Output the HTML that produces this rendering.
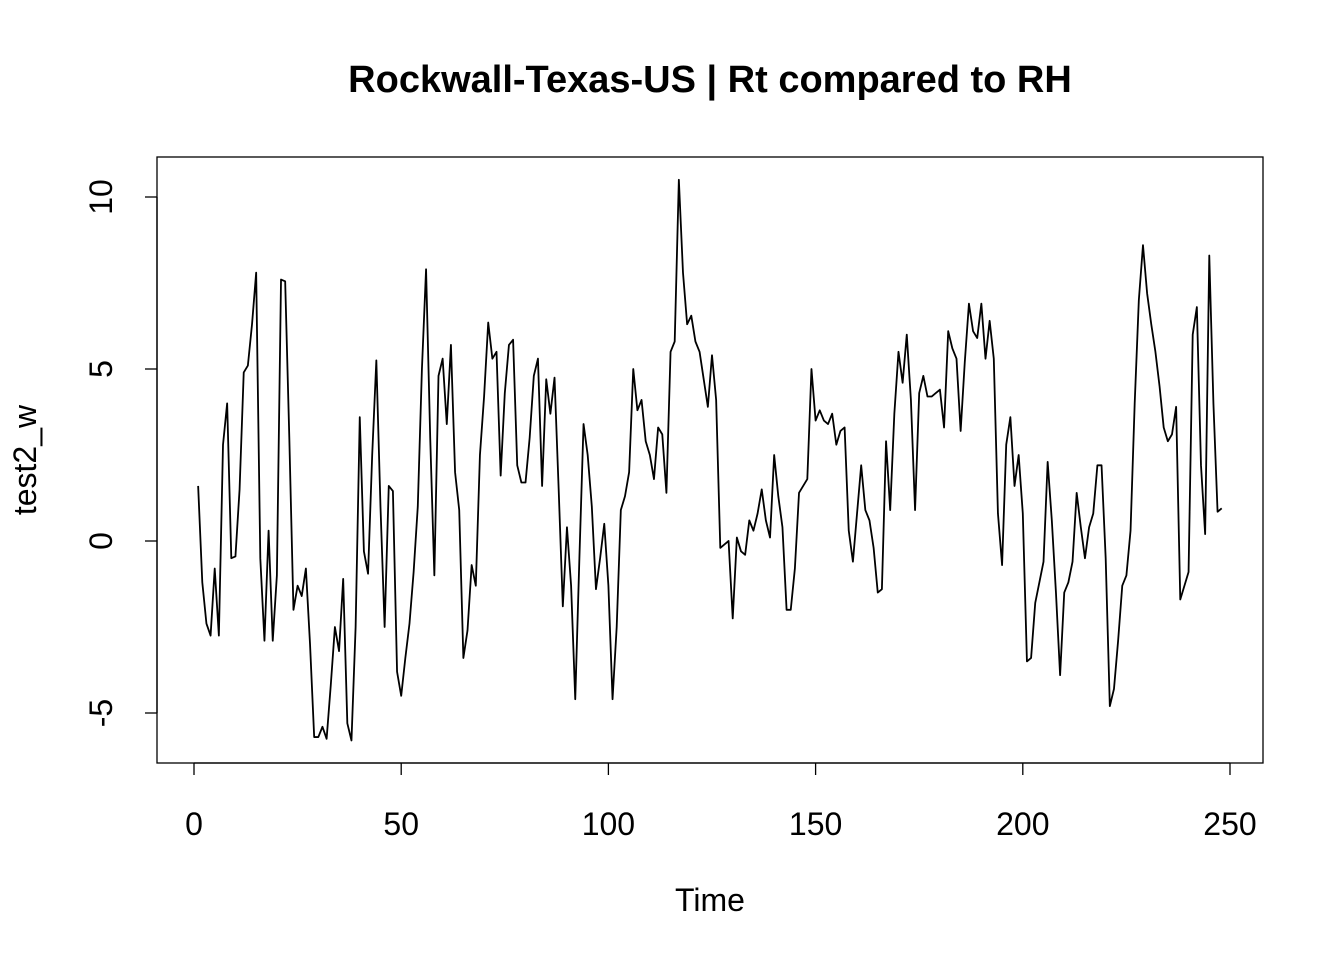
<!DOCTYPE html>
<html><head><meta charset="utf-8"><style>
body{margin:0;background:#fff}
svg{display:block;font-family:"Liberation Sans",Arial,sans-serif}
</style></head><body>
<svg id="chart" width="1344" height="960">
<text x="710" y="92" text-anchor="middle" font-size="38" font-weight="bold">Rockwall-Texas-US | Rt compared to RH</text>
<rect x="157" y="157" width="1106" height="606" fill="none" stroke="#000" stroke-width="1.3"/>
<g id="xaxis"></g>
<g id="yaxis"></g>
<text x="710" y="911" text-anchor="middle" font-size="32">Time</text>
<text transform="translate(36,460) rotate(-90)" text-anchor="middle" font-size="32">test2_w</text>
<path id="series" fill="none" stroke="#000" stroke-width="1.8" stroke-linejoin="round"/>
</svg>
<script>
const values = [1.6,-1.2,-2.4,-2.75,-0.8,-2.75,2.8,4.0,-0.5,-0.45,1.5,4.9,5.1,6.3,7.8,-0.5,-2.9,0.3,-2.9,-1.0,7.6,7.55,3.0,-2.0,-1.3,-1.6,-0.8,-3.0,-5.7,-5.7,-5.4,-5.75,-4.2,-2.5,-3.2,-1.1,-5.3,-5.8,-2.5,3.6,-0.3,-0.95,2.5,5.25,1.0,-2.5,1.6,1.45,-3.8,-4.5,-3.4,-2.4,-0.9,1.0,5.0,7.9,3.0,-1.0,4.8,5.3,3.4,5.7,2.0,0.9,-3.4,-2.6,-0.7,-1.3,2.5,4.2,6.35,5.3,5.5,1.9,4.3,5.7,5.85,2.2,1.7,1.7,3.0,4.8,5.3,1.6,4.7,3.7,4.75,1.5,-1.9,0.4,-1.3,-4.6,-0.5,3.4,2.5,1.0,-1.4,-0.5,0.5,-1.3,-4.6,-2.5,0.9,1.3,2.0,5.0,3.8,4.1,2.9,2.5,1.8,3.3,3.1,1.4,5.5,5.8,10.5,7.8,6.3,6.55,5.8,5.5,4.7,3.9,5.4,4.1,-0.2,-0.1,0.0,-2.25,0.1,-0.3,-0.4,0.6,0.3,0.8,1.5,0.6,0.1,2.5,1.3,0.4,-2.0,-2.0,-0.8,1.4,1.6,1.8,5.0,3.5,3.8,3.5,3.4,3.7,2.8,3.2,3.3,0.3,-0.6,0.8,2.2,0.9,0.6,-0.2,-1.5,-1.4,2.9,0.9,3.7,5.5,4.6,6.0,4.1,0.9,4.3,4.8,4.2,4.2,4.3,4.4,3.3,6.1,5.6,5.3,3.2,5.2,6.9,6.1,5.9,6.9,5.3,6.4,5.3,0.8,-0.7,2.8,3.6,1.6,2.5,0.8,-3.5,-3.4,-1.8,-1.2,-0.6,2.3,0.6,-1.5,-3.9,-1.5,-1.2,-0.6,1.4,0.4,-0.5,0.4,0.8,2.2,2.2,-0.5,-4.8,-4.3,-2.9,-1.3,-1.0,0.3,4.0,7.0,8.6,7.2,6.3,5.5,4.5,3.3,2.9,3.1,3.9,-1.7,-1.3,-0.9,6.0,6.8,2.2,0.2,8.3,4.0,0.85,0.95];
const xTicks = [0,50,100,150,200,250];
const yTicks = [-5,0,5,10];
const NS='http://www.w3.org/2000/svg';
function xs(t){return 194+t*(1230-194)/250;}
function ys(v){return 541-v*(541-197)/10;}
let d='';
values.forEach((v,i)=>{d+=(i?'L':'M')+xs(i+1).toFixed(2)+','+ys(v).toFixed(2);});
document.getElementById('series').setAttribute('d',d);
const xa=document.getElementById('xaxis');
const ln=document.createElementNS(NS,'line');
ln.setAttribute('x1',xs(0));ln.setAttribute('x2',xs(250));ln.setAttribute('y1',763);ln.setAttribute('y2',763);ln.setAttribute('stroke','#000');ln.setAttribute('stroke-width','1.3');
xa.appendChild(ln);
xTicks.forEach(t=>{
 const l=document.createElementNS(NS,'line');
 
 
 l.setAttribute('x1',xs(t));l.setAttribute('x2',xs(t));l.setAttribute('y1',763);l.setAttribute('y2',775);l.setAttribute('stroke','#000');l.setAttribute('stroke-width','1.3');
 xa.appendChild(l);
 const tx=document.createElementNS(NS,'text');
 
 
 tx.setAttribute('x',xs(t));tx.setAttribute('y',835);tx.setAttribute('text-anchor','middle');tx.setAttribute('font-size','32');
 tx.textContent=t;xa.appendChild(tx);
});
const ya=document.getElementById('yaxis');
const ln2=document.createElementNS(NS,'line');
ln2.setAttribute('x1',157);ln2.setAttribute('x2',157);ln2.setAttribute('y1',ys(-5));ln2.setAttribute('y2',ys(10));ln2.setAttribute('stroke','#000');ln2.setAttribute('stroke-width','1.3');
ya.appendChild(ln2);
yTicks.forEach(v=>{
 const l=document.createElementNS(NS,'line');
 
 
 l.setAttribute('x1',145);l.setAttribute('x2',157);l.setAttribute('y1',ys(v));l.setAttribute('y2',ys(v));l.setAttribute('stroke','#000');l.setAttribute('stroke-width','1.3');
 ya.appendChild(l);
 const tx=document.createElementNS(NS,'text');
 
 
 tx.setAttribute('transform','translate(112,'+ys(v)+') rotate(-90)');tx.setAttribute('text-anchor','middle');tx.setAttribute('font-size','32');
 tx.textContent=v;ya.appendChild(tx);
});
</script>
</body></html>
